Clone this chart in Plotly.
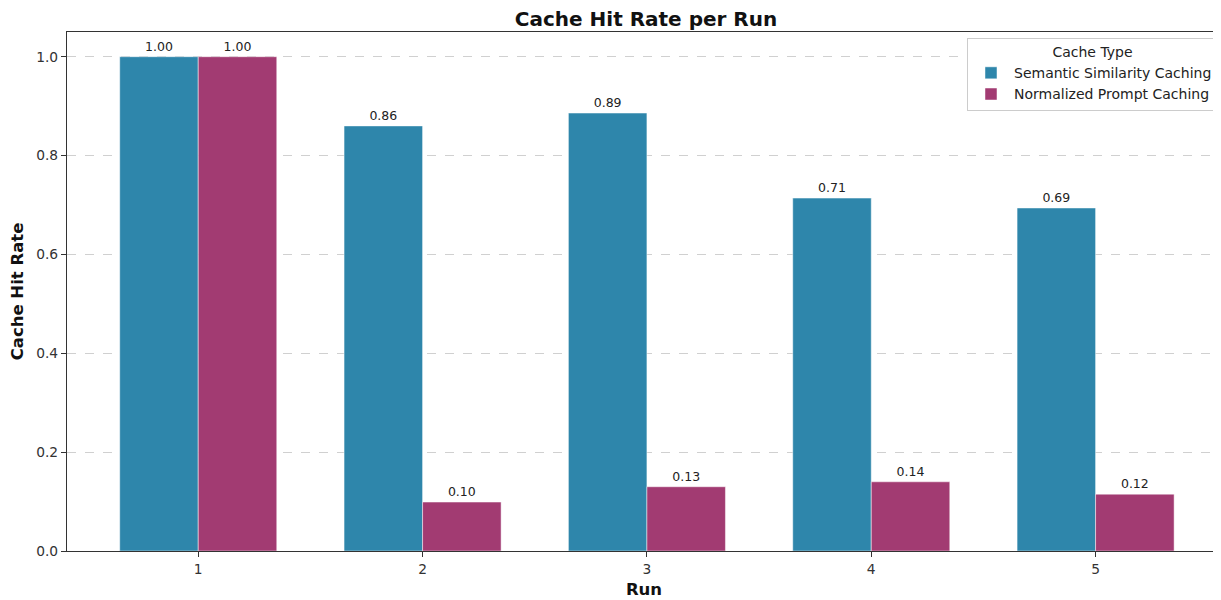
import plotly.graph_objects as go

runs = [1, 2, 3, 4, 5]
semantic = [1.00, 0.86, 0.886, 0.714, 0.694]
normalized = [1.00, 0.099, 0.130, 0.140, 0.115]
series_names = ["Semantic Similarity Caching", "Normalized Prompt Caching"]
colors = ["#2E86AB", "#A23B72"]

W, H = 1213, 592  # page body has an 8px margin
fig = go.Figure()
for name, vals, col in zip(series_names, [semantic, normalized], colors):
    fig.add_trace(go.Bar(
        x=runs, y=vals, name=name,
        marker=dict(color=col, line=dict(color="rgba(255,255,255,0.6)", width=0.8)),
        text=[f"{v:.2f}" for v in vals], textposition="outside",
        textfont=dict(size=12.5, color="#222", family="DejaVu Sans"),
        cliponaxis=False,
    ))

fig.update_layout(
    width=W, height=H,
    barmode="group", bargap=0.3, bargroupgap=0,
    plot_bgcolor="white", paper_bgcolor="white",
    font=dict(family="DejaVu Sans", color="#222"),
    margin=dict(l=59, r=0, t=24, b=49, autoexpand=False),
    title=dict(text="<b>Cache Hit Rate per Run</b>", x=638/W, xanchor="center",
               y=1 - 11/H, yanchor="middle", font=dict(size=20, color="#111")),
    legend=dict(
        title=dict(text="Cache Type", side="top center", font=dict(size=14)),
        x=0.9974, xanchor="right", y=0.9884, yanchor="top",
        bgcolor="white", bordercolor="#cccccc", borderwidth=1,
        font=dict(size=14, color="#222"), tracegroupgap=0, itemwidth=36,
    ),
)
fig.update_xaxes(
    range=[0.415, 5.559], tickvals=runs, ticktext=[str(r) for r in runs],
    showgrid=False, showline=True, linecolor="#333", linewidth=1.2, mirror=True,
    ticks="outside", ticklen=5, tickcolor="#333", tickfont=dict(size=13.8, color="#333"),
    title=dict(text="<b>Run</b>", font=dict(size=16.5, color="#111"), standoff=7),
    zeroline=False, automargin=False,
)
fig.update_yaxes(
    range=[0, 1.05], tickvals=[0, 0.2, 0.4, 0.6, 0.8, 1.0], tickformat=".1f",
    showgrid=True, gridcolor="#d0d0d0", griddash="dash", gridwidth=1,
    showline=True, linecolor="#333", linewidth=1.2,
    ticks="outside", ticklen=5, tickcolor="#333", tickfont=dict(size=13.8, color="#333"),
    title=dict(text="<b>Cache Hit Rate</b>", font=dict(size=16.5, color="#111"), standoff=11),
    zeroline=False, automargin=False,
)

fig.write_html("out.html")
